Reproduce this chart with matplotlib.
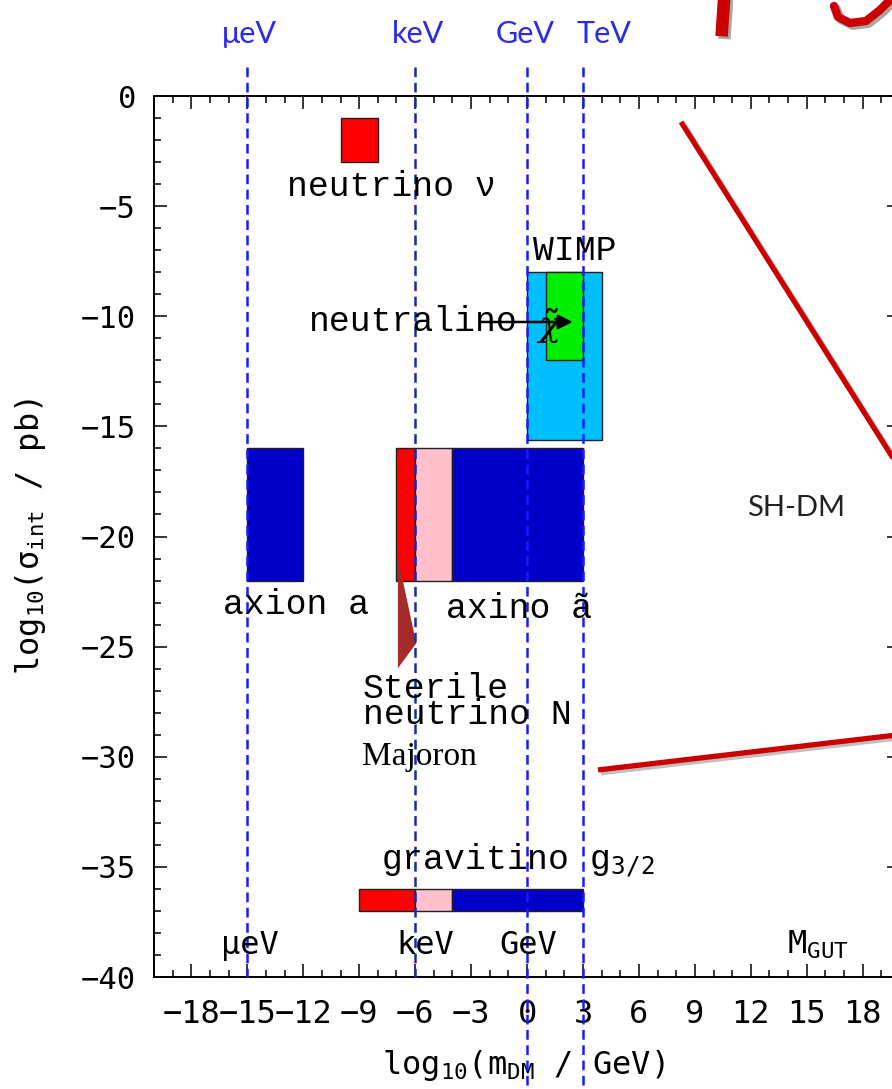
import matplotlib
matplotlib.use("Agg")
import matplotlib.pyplot as plt
import matplotlib.patheffects as pe
from matplotlib.patches import Polygon
from matplotlib.lines import Line2D
from matplotlib.transforms import blended_transform_factory

plt.rcParams['mathtext.fontset'] = 'custom'
plt.rcParams['mathtext.rm'] = 'DejaVu Sans Mono'
plt.rcParams['mathtext.it'] = 'DejaVu Serif:italic'
plt.rcParams['lines.scale_dashes'] = False

# dark matter candidate boxes: log10(m / GeV) range, log10(sigma / pb) range
box_names = ["neutrino", "WIMP", "neutralino", "axion",
             "sterile", "axino_warm", "axino",
             "gravitino_hot", "gravitino_warm", "gravitino"]
box_mmin = [-10, 0, 1, -15, -7, -6, -4, -9, -6, -4]
box_mmax = [-8, 4, 3, -12, -6, -4, 3, -6, -4, 3]
box_smin = [-3, -15.6, -12, -22, -22, -22, -22, -37, -37, -37]
box_smax = [-1, -8, -8, -16, -16, -16, -16, -36, -36, -36]
box_colors = ["#ff0000", "#00bfff", "#00ee00", "#0000c8",
              "#ff0000", "#ffc0cb", "#0000c8",
              "#ff0000", "#ffc0cb", "#0000c8"]

# energy scales (log10 of mass in GeV)
scale_names = ["μeV", "keV", "GeV", "TeV"]
scale_logm = [-15, -6, 0, 3]
scale_colors = ["#1a1aff", "#1c2aa8", "#1a1aff", "#1a1aff"]
scale_bottom = [-40, -40, -45.2, -45.2]
scale_label_shift = [0.1, 0.15, -0.1, 1.1]

# candidate labels (Courier-like)
cand_text = ["neutrino ν", "WIMP", "neutralino", "axion a", "axino ã",
             "Sterile", "neutrino N", r"gravitino g$_{3/2}$"]
cand_x = [-7.25, 2.57, -6.1, -12.4, -0.43, -8.8, -8.8, -7.85]
cand_y = [-4.1, -7.0, -10.26, -23.1, -23.25, -26.9, -28.1, -34.7]
cand_ha = ["center", "center", "center", "center", "center", "left", "left", "left"]

# bottom mass markers
mark_text = ["μeV", "keV", "GeV", r"M$_{\rm GUT}$"]
mark_x = [-14.85, -5.45, 0.05, 15.6]
mark_y = -38.55

# pointer triangle and hand-drawn red strokes
pointer = [(-6.92, -20.95), (-5.94, -24.85), (-6.92, -25.98)]
red_lines = [[(8.26, -1.18), (20.45, -17.55)],
             [(3.81, -30.6), (20.45, -28.95)]]

fig = plt.figure(figsize=(8.92, 10.89), dpi=100)
ax = fig.add_axes([154 / 892, 1 - 977 / 1089, 746 / 892, 881 / 1089])

widths = [b - a for a, b in zip(box_mmin, box_mmax)]
heights = [b - a for a, b in zip(box_smin, box_smax)]
ax.bar(box_mmin, heights, width=widths, bottom=box_smin, align='edge',
       color=box_colors, edgecolor='#202020', linewidth=1.0, zorder=2)

ax.add_patch(Polygon(pointer, closed=True, facecolor='#a52a2a',
                     edgecolor='none', zorder=3))

# dashed scale lines
trans_top = blended_transform_factory(ax.transData, ax.transAxes)
for name, m, c, yb, dx in zip(scale_names, scale_logm, scale_colors,
                              scale_bottom, scale_label_shift):
    ax.plot([m, m], [1.3, yb], color=c, linewidth=1.8, dashes=(7, 4),
            clip_on=False, zorder=4)
    ax.text(m + dx, 1.07, name, transform=trans_top, ha='center', va='center',
            fontsize=22, color='#2a2ae8', family='Lato')

for txt, x, y, ha in zip(cand_text, cand_x, cand_y, cand_ha):
    ax.text(x, y, txt, ha=ha, va='center', fontsize=25,
            family='Liberation Mono', zorder=5)

ax.text(-8.85, -30.0, "Majoron", ha='left', va='center', fontsize=24,
        family='Liberation Serif', zorder=5)

# neutralino arrow
ax.annotate("", xy=(2.6, -10.26), xytext=(-2.6, -10.26),
            arrowprops=dict(arrowstyle='-|>', color='black', lw=1.8,
                            mutation_scale=22), zorder=6)
ax.text(1.25, -10.45, r"$\tilde{\chi}$", ha='center', va='center',
        fontsize=26, zorder=6)

for txt, x in zip(mark_text, mark_x):
    ax.text(x, mark_y, txt, ha='center', va='center', fontsize=23,
            family='DejaVu Sans Mono', zorder=5)

ax.text(14.4, -18.7, "SH-DM", ha='center', va='center', fontsize=21,
        family='Lato', color='#222222', zorder=5)

for (x0, y0), (x1, y1) in red_lines:
    ax.plot([x0, x1], [y0, y1], color='#cc0000', linewidth=3.8,
            solid_capstyle='butt', clip_on=False, zorder=6,
            path_effects=[pe.SimpleLineShadow(offset=(2, -2), alpha=0.25),
                          pe.Normal()])

# hand-written red marks at the top right (cut off by the frame)
stroke_shadow = [pe.SimpleLineShadow(offset=(2, -2), alpha=0.35), pe.Normal()]
fig.add_artist(Line2D([724 / 892, 722 / 892], [1.0, 1 - 30 / 1089],
                      color='#cc0000', linewidth=9, transform=fig.transFigure,
                      path_effects=stroke_shadow))
hook_x = [834, 838, 850, 866, 880, 890]
hook_y = [6, 17, 23, 21, 10, 0]
fig.add_artist(Line2D([v / 892 for v in hook_x], [1 - v / 1089 for v in hook_y],
                      color='#cc0000', linewidth=6, solid_capstyle='round',
                      transform=fig.transFigure, path_effects=stroke_shadow))

ax.set_xlim(-20, 20)
ax.set_ylim(-40, 0)
ax.set_xticks(range(-18, 19, 3))
ax.set_xticks(range(-20, 21, 1), minor=True)
ax.set_yticks(range(-40, 1, 5))
ax.set_yticks(range(-40, 1, 1), minor=True)
ax.set_xticklabels([str(v).replace('-', '\u2212') for v in range(-18, 19, 3)],
                   family='DejaVu Sans Mono', fontsize=23)
ax.set_yticklabels([str(v).replace('-', '\u2212') for v in range(-40, 1, 5)],
                   family='DejaVu Sans Mono', fontsize=22)
ax.tick_params(which='both', direction='in', top=True, right=True, width=1.1)
ax.tick_params(which='major', length=9.5)
ax.tick_params(which='minor', length=5)
ax.tick_params(axis='x', pad=16)
ax.tick_params(axis='y', pad=13)
for sp in ax.spines.values():
    sp.set_linewidth(1.4)

ax.text(0.495, -0.1, r"log$_{10}$(m$_{\rm DM}$ / GeV)", transform=ax.transAxes,
        ha='center', va='center', fontsize=23, family='DejaVu Sans Mono')
ax.text(-0.165, 0.5, r"log$_{10}$(σ$_{\rm int}$ / pb)", transform=ax.transAxes,
        ha='center', va='center', rotation=90, fontsize=23,
        family='DejaVu Sans Mono')

fig.savefig("out.png", dpi=100)
